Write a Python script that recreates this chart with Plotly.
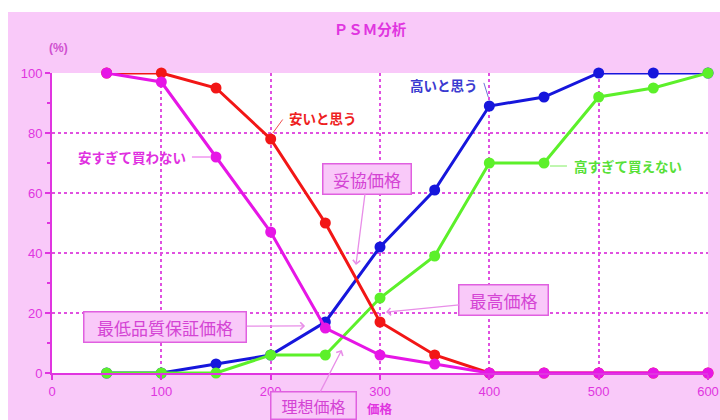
import plotly.graph_objects as go

# ---- data ----
prices = [50, 100, 150, 200, 250, 300, 350, 400, 450, 500, 550, 600]
too_cheap = [100, 97, 72, 47, 15, 6, 3, 0, 0, 0, 0, 0]          # 安すぎて買わない
cheap = [100, 100, 95, 78, 50, 17, 6, 0, 0, 0, 0, 0]            # 安いと思う
expensive = [0, 0, 3, 6, 17, 42, 61, 89, 92, 100, 100, 100]     # 高いと思う
too_expensive = [0, 0, 0, 6, 6, 25, 39, 70, 70, 92, 95, 100]    # 高すぎて買えない

x_ticks = [0, 100, 200, 300, 400, 500, 600]
y_ticks = [0, 20, 40, 60, 80, 100]

series = [
    ("高いと思う", expensive, "#1616dc"),
    ("高すぎて買えない", too_expensive, "#5cf02a"),
    ("安いと思う", cheap, "#f21616"),
    ("安すぎて買わない", too_cheap, "#e616e6"),
]

MAG = "#e035e0"
PINK = "#f9c9f9"
JP = "Noto Sans CJK JP"

fig = go.Figure()
for name, vals, col in series:
    fig.add_trace(go.Scatter(
        x=prices, y=vals, name=name, mode="lines+markers",
        line=dict(color=col, width=3),
        marker=dict(color=col, size=11),
        cliponaxis=False, showlegend=False,
    ))

W, H = 720, 420
L, R, T, B = 52, 12, 73, 47
pw, ph = W - L - R, H - T - B


def px_x(p):
    return (p - L) / pw


def px_y(p):
    return (H - B - p) / ph


shapes = [
    # white strips outside the pink frame
    dict(type="rect", xref="paper", yref="paper", x0=px_x(0), x1=px_x(W), y0=px_y(12), y1=px_y(0),
         fillcolor="white", line_width=0, layer="below"),
    dict(type="rect", xref="paper", yref="paper", x0=px_x(0), x1=px_x(8), y0=px_y(H), y1=px_y(0),
         fillcolor="white", line_width=0, layer="below"),
]

# leader lines for series labels
leaders = [
    (202, 80, 211, 84.5, "#f05050"),
    (128, 72, 144.5, 72, "#e860e8"),
    (395, 96.7, 399, 92, "#7070d8"),
    (455.5, 69, 471, 69, "#80ee60"),
]
for x0, y0, x1, y1, c in leaders:
    shapes.append(dict(type="line", xref="x", yref="y", x0=x0, y0=y0, x1=x1, y1=y1,
                       line=dict(color=c, width=1)))

annotations = []
labels = [
    ("安いと思う", 215, 85, "left", "#ee2020"),
    ("安すぎて買わない", 124.5, 72, "right", "#e030e0"),
    ("高いと思う", 391.5, 96, "right", "#3a3ad0"),
    ("高すぎて買えない", 475.5, 69, "left", "#58e038"),
]
for t, x, y, xa, c in labels:
    annotations.append(dict(text="<b>" + t + "</b>", x=x, y=y, xref="x", yref="y",
                            xanchor=xa, yanchor="middle", showarrow=False,
                            font=dict(family=JP, size=13.5, color=c)))

boxes = [
    ("妥協価格", 288, 64.7, 278, 36, 83, 17, 2),
    ("最低品質保証価格", 103.8, 15.5, 231.5, 15.7, 157, 17, 2),
    ("理想価格", 239, -10.8, 265, 7.7, 82, 16, 1),
    ("最高価格", 413.4, 24.2, 305.5, 20.3, 84, 17, 2),
]
for t, tx, ty, hx, hy, w, fs, bp in boxes:
    annotations.append(dict(
        text=t, x=hx, y=hy, xref="x", yref="y", ax=tx, ay=ty, axref="x", ayref="y",
        showarrow=True, arrowhead=4, arrowsize=1.1, arrowwidth=1.3, arrowcolor="#e88ee8",
        bgcolor=PINK, bordercolor="#e060e0", borderwidth=1.5, borderpad=bp, width=w,
        font=dict(family=JP, size=fs, color="#d444d4"),
    ))

annotations.append(dict(text="<b>(%)</b>", x=px_x(58), y=px_y(48), xref="paper", yref="paper",
                        xanchor="center", yanchor="middle",
                        showarrow=False, font=dict(family="Liberation Sans", size=12, color="#d050d0")))
annotations.append(dict(text="<b>価格</b>", x=300, y=px_y(408), xref="x", yref="paper",
                        xanchor="center", yanchor="middle",
                        showarrow=False, font=dict(family=JP, size=12.5, color=MAG)))

axis_common = dict(
    showline=True, linecolor=MAG, linewidth=2, mirror=False,
    ticks="outside", tickcolor=MAG, tickwidth=1.5, ticklen=5,
    showgrid=True, gridcolor="#e050e0", gridwidth=1.5, griddash="dot",
    zeroline=False, automargin=False,
    tickfont=dict(family="Liberation Sans", size=13, color=MAG),
)

fig.update_layout(
    width=W, height=H, autosize=False,
    margin=dict(l=L, r=R, t=T, b=B, pad=0, autoexpand=False),
    paper_bgcolor=PINK, plot_bgcolor="white",
    title=dict(text="<b>ＰＳＭ分析</b>", x=370 / W, y=1 - 30 / H, xref="container", yref="container",
               xanchor="center", yanchor="middle",
               font=dict(family=JP, size=14.5, color=MAG)),
    xaxis=dict(range=[0, 600], tickvals=x_ticks, ticktext=[str(v) for v in x_ticks], **axis_common),
    yaxis=dict(range=[0, 100], tickvals=y_ticks, ticktext=[str(v) for v in y_ticks],
               minor=dict(dtick=10, ticks="outside", ticklen=3, tickcolor=MAG, showgrid=False),
               **axis_common),
    shapes=shapes,
    annotations=annotations,
)

fig.write_html("out.html")
